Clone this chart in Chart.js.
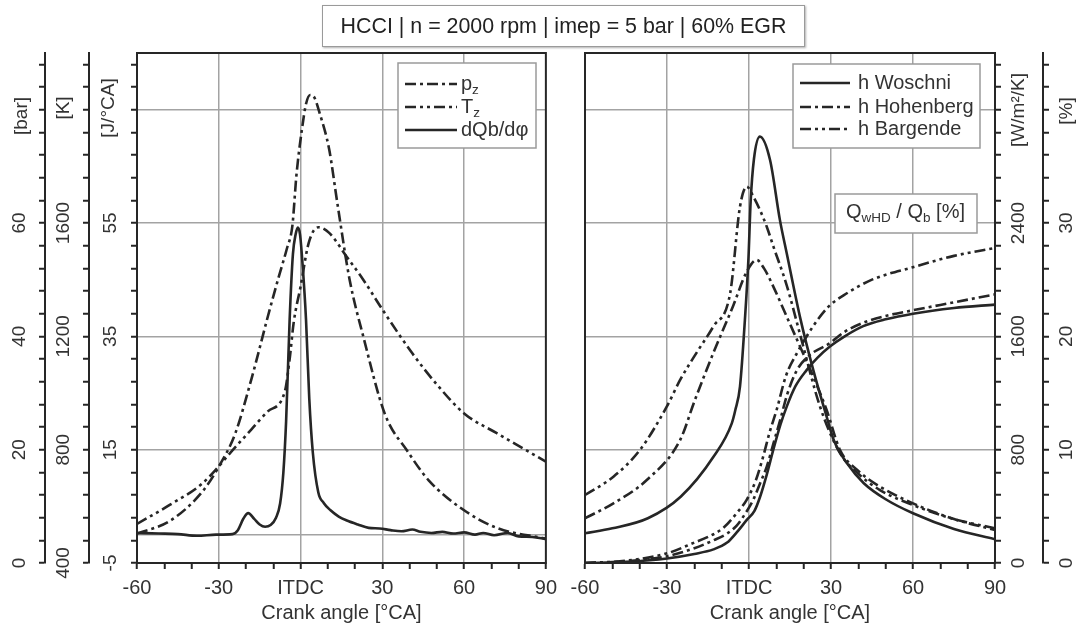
<!DOCTYPE html>
<html>
<head>
<meta charset="utf-8">
<script src="https://cdn.jsdelivr.net/npm/chart.js@4.4.1/dist/chart.umd.min.js"></script>
<style>
  body { margin: 0; background: #fff; width: 1076px; height: 626px; position: relative; overflow: hidden; font-family: "Liberation Sans", Arial, sans-serif; }
  #leftChart { position: absolute; left: 0; top: 0; }
  #rightChart { position: absolute; left: 560px; top: 0; }
  #title { position: absolute; left: 322px; top: 5px; width: 483px; height: 42px; box-sizing: border-box;
    border: 1px solid #9a9a9a; box-shadow: 1px 1px 2px #b0b0b0; background: #fff;
    text-align: center; line-height: 40px; font-size: 21.4px; color: #222; }
</style>
</head>
<body>
<canvas id="rightChart" width="516" height="626"></canvas>
<canvas id="leftChart" width="564" height="626"></canvas>
<div id="title">HCCI | n = 2000 rpm | imep = 5 bar | 60% EGR</div>
<script>
// left panel: cylinder pressure [bar], gas temperature [K], heat release rate [J/°CA]
const caP = [-60, -48, -36, -30, -24, -18, -12, -8, -5, -3, -1.5, 0.5, 2, 3.5, 5, 7, 10.5, 13.5, 18, 23, 31, 39, 47, 60, 72, 90];
const pressure = [5.2, 7.4, 12.6, 17.0, 22.8, 32.5, 43.5, 50.5, 55.5, 59.5, 68.5, 76.5, 81.0, 82.6, 82.2, 79.4, 73.0, 63.5, 50.0, 40.0, 26.2, 19.9, 14.6, 9.3, 6.2, 4.3];

const caT = [-60, -48, -36, -24, -18, -12, -5.8, -4, -2.5, 0, 3, 6.5, 10.5, 17, 23, 30, 41, 50, 60, 72, 90];
const temperature = [538, 605, 681, 808, 872, 935, 1004, 1120, 1250, 1375, 1530, 1585, 1565, 1480, 1400, 1295, 1140, 1030, 928, 858, 758];

const caHR = [-60, -52, -45, -38, -31, -25, -23, -21, -19.2, -17, -15, -13, -11, -9, -7.5, -6.3, -5.3, -4, -2.8, -1.8,
  -1, -0.2, 0.8, 2, 3.2, 4.5, 6.5, 8.5, 11, 14, 17, 21, 25, 29, 33, 37, 41, 44, 48, 52, 56, 60, 64, 67, 71, 76, 80, 85, 90];
const heatRelease = [0.3, 0.2, 0.1, -0.2, 0.0, 0.1, 0.8, 2.8, 3.8, 2.8, 1.8, 1.4, 1.7, 3.0, 5.5, 11, 20, 38, 49.5, 53,
  54.2, 53, 47.3, 38, 24, 14.5, 7.5, 5.6, 4.3, 3.2, 2.5, 1.8, 1.2, 1.1, 0.8, 0.6, 0.9, 0.5, 0.3, 0.5, 0.2, 0.4, 0.0, 0.3, -0.1, 0.3, -0.3, -0.4, -0.8];

// right panel: heat transfer coefficient [W/m²/K]
const caHW = [-60, -50, -37, -25, -13, -6.3, -5, -3.3, -1.5, -0.2, 0.6, 1.8, 4, 7.7, 11.3, 13.8, 18.9, 23.5, 28.4, 31, 36, 42, 50, 60, 75, 90];
const hWoschni = [210, 245, 316, 468, 750, 986, 1080, 1245, 1716, 2150, 2550, 2850, 3010, 2845, 2422, 2187, 1716, 1363, 1033, 868, 700, 563, 450, 351, 240, 167];

const caHH = [-60, -49.6, -37.4, -25.2, -19.8, -13.1, -5.7, -1, 2.8, 5.5, 8.9, 13.8, 18.7, 23.5, 28.4, 33.3, 40, 47.9, 60, 75, 90];
const hHohenberg = [316, 421, 586, 868, 1150, 1480, 1820, 2050, 2139, 2080, 1951, 1739, 1527, 1316, 1080, 798, 650, 539, 421, 310, 233];

const caHB = [-60, -49.6, -39.9, -30.1, -25.2, -19, -13.1, -6.9, -3.3, -0.8, 1.6, 4, 6.5, 9, 13.8, 18.9, 26, 33.3, 40, 47.9, 60, 75, 90];
const hBargende = [480, 609, 798, 1103, 1292, 1490, 1668, 1904, 2515, 2657, 2586, 2492, 2374, 2230, 1960, 1598, 1103, 775, 630, 515, 409, 310, 245];

// right panel: wall heat loss share Q_wHD / Q_b [%]
const caQW = [-60, -45, -30, -20, -13, -8, -4.5, -0.8, 2, 4, 6.5, 8.9, 11.5, 13.8, 17, 21, 25, 29.6, 35, 41.8, 50, 60, 75, 90];
const qWoschni = [0, 0.1, 0.4, 0.8, 1.2, 1.8, 2.7, 3.8, 4.6, 5.8, 7.8, 10.0, 12.2, 13.8, 15.6, 17.0, 18.1, 19.1, 20.0, 20.9, 21.5, 22.0, 22.5, 22.8];

const caQH = [-60, -45, -30, -20, -13, -8, -4.5, -1, 1.6, 4, 6.5, 9, 11.4, 14, 17.5, 22, 29.6, 35, 41.8, 50, 60, 75, 90];
const qHohenberg = [0, 0.15, 0.6, 1.3, 2.0, 2.6, 3.3, 4.5, 5.6, 7.0, 8.5, 10.6, 12.6, 14.9, 17.0, 18.3, 19.4, 20.4, 21.2, 21.8, 22.3, 23.0, 23.7];

const caQB = [-60, -45, -30, -20, -15, -9.4, -4.5, -0.8, 2.5, 5.2, 7.5, 10.1, 13.5, 17.5, 23.5, 29, 35.8, 45, 60, 75, 90];
const qBargende = [0, 0.2, 0.85, 1.8, 2.3, 3.1, 4.4, 5.6, 7.3, 9.4, 11.5, 13.5, 16.5, 18.5, 20.9, 22.6, 23.8, 25.0, 26.1, 27.1, 27.8];

// tick labels
const xTicks = [-60, -30, 0, 30, 60, 90];
const xTickLabels = ['-60', '-30', 'ITDC', '30', '60', '90'];
const barLabels = [0, 20, 40, 60];
const kLabels = [400, 800, 1200, 1600];
const jLabels = [-5, 15, 35, 55];
const wLabels = [0, 800, 1600, 2400];
const pctLabels = [0, 10, 20, 30];

const FONT = '"Liberation Sans", Arial, sans-serif';
const INK = '#262626';
const TEXT = '#333';
const GRID = '#a3a3a3';
const CLEAR = 'rgba(0,0,0,0)';
const DASH_DOT = [11, 4, 3, 4];
const DASH_DOT_DOT = [11, 4, 3, 4, 3, 4];

function line(xs, ys, axis, dash) {
  return {
    data: xs.map((x, i) => ({ x: x, y: ys[i] })),
    yAxisID: axis,
    borderColor: INK,
    borderWidth: 2.6,
    borderDash: dash,
    pointRadius: 0,
    cubicInterpolationMode: 'monotone',
    fill: false
  };
}

function stepTicks(from, to, step) {
  return s => {
    s.ticks = [];
    for (let v = from; v <= to + 1e-9; v += step) s.ticks.push({ value: v });
  };
}

function xAxis() {
  return {
    type: 'linear', position: 'bottom', min: -60, max: 90,
    ticks: {
      stepSize: 10, autoSkip: false, minRotation: 0, maxRotation: 0, padding: 7,
      color: TEXT, font: { family: FONT, size: 20 },
      callback: v => { const i = xTicks.indexOf(v); return i < 0 ? '' : xTickLabels[i]; }
    },
    grid: {
      color: c => (c.tick && c.tick.value % 30 === 0 && c.tick.value > -60 && c.tick.value < 90) ? GRID : CLEAR,
      lineWidth: 1.5, tickLength: 6, tickColor: INK, tickWidth: 2
    },
    border: { color: INK, width: 2 },
    title: { display: true, text: 'Crank angle [°CA]', color: TEXT, font: { family: FONT, size: 20 }, padding: { top: 0, bottom: 1 } },
    afterFit: s => { s.height = 63; }
  };
}

function yAxis(pos, weight, min, max, step, width, gridEvery) {
  return {
    type: 'linear', position: pos, weight: weight, min: min, max: max,
    afterBuildTicks: stepTicks(min, max - step / 2, step),
    ticks: { display: false },
    grid: {
      display: true,
      drawOnChartArea: !!gridEvery,
      color: c => (gridEvery && c.tick && c.tick.value > min && Math.abs((c.tick.value - min) % gridEvery) < 1e-6) ? GRID : CLEAR,
      lineWidth: 1.5, tickLength: 6, tickColor: INK, tickWidth: 2
    },
    border: { color: INK, width: 2 },
    afterFit: s => { s.width = width; }
  };
}

function vText(ctx, text, x, y) {
  ctx.save();
  ctx.translate(x, y);
  ctx.rotate(-Math.PI / 2);
  ctx.textAlign = 'center';
  ctx.textBaseline = 'middle';
  ctx.fillText(text, 0, 0);
  ctx.restore();
}

function richText(ctx, parts, x, y) {
  ctx.fillStyle = TEXT;
  ctx.textAlign = 'left';
  ctx.textBaseline = 'middle';
  parts.forEach(p => {
    const sub = p[1];
    ctx.font = (sub ? 13.5 : 20) + 'px ' + FONT;
    ctx.fillText(p[0], x, sub ? y + 6 : y);
    x += ctx.measureText(p[0]).width;
  });
}

function drawBox(ctx, b) {
  ctx.setLineDash([]);
  ctx.fillStyle = '#fff';
  ctx.fillRect(b.x, b.y, b.w, b.h);
  ctx.strokeStyle = '#9a9a9a';
  ctx.lineWidth = 1.5;
  ctx.strokeRect(b.x, b.y, b.w, b.h);
  b.rows.forEach(r => {
    if (r.dash) {
      ctx.strokeStyle = INK;
      ctx.lineWidth = 2.6;
      ctx.setLineDash(r.dash);
      ctx.beginPath();
      ctx.moveTo(b.lx1, r.y);
      ctx.lineTo(b.lx2, r.y);
      ctx.stroke();
      ctx.setLineDash([]);
    }
    richText(ctx, r.parts, b.tx, r.y);
  });
}

// frame, rotated axis labels, legend boxes
function makeDecor(cfg) {
  return {
    id: 'decor',
    beforeDatasetsDraw(chart) {
      if (!cfg.zeroLine) return;
      const ctx = chart.ctx, a = chart.chartArea;
      const y = chart.scales[cfg.zeroLine.axis].getPixelForValue(cfg.zeroLine.value);
      ctx.save();
      ctx.strokeStyle = GRID;
      ctx.lineWidth = 1.5;
      ctx.beginPath();
      ctx.moveTo(a.left, y);
      ctx.lineTo(a.right, y);
      ctx.stroke();
      ctx.restore();
    },
    afterDraw(chart) {
      const ctx = chart.ctx, a = chart.chartArea;
      ctx.save();
      ctx.strokeStyle = INK;
      ctx.lineWidth = 2;
      ctx.strokeRect(a.left, a.top, a.right - a.left, a.bottom - a.top);
      ctx.fillStyle = TEXT;
      ctx.font = '19px ' + FONT;
      cfg.axes.forEach(ax => {
        const s = chart.scales[ax.id];
        ax.labels.forEach(v => vText(ctx, String(v), ax.x, s.getPixelForValue(v)));
        vText(ctx, ax.title, ax.x + (ax.titleDx || 0), ax.titleY);
      });
      cfg.boxes.forEach(b => drawBox(ctx, b));
      ctx.restore();
    }
  };
}

const leftDecor = {
  zeroLine: { axis: 'J', value: 0 },
  axes: [
    { id: 'bar', labels: barLabels, x: 20, title: '[bar]', titleDx: 2, titleY: 116 },
    { id: 'K', labels: kLabels, x: 64, title: '[K]', titleY: 108 },
    { id: 'J', labels: jLabels, x: 111, title: '[J/°CA]', titleDx: -2, titleY: 108 }
  ],
  boxes: [
    { x: 398, y: 63, w: 138, h: 85, lx1: 405, lx2: 457, tx: 461, rows: [
      { y: 84, dash: DASH_DOT, parts: [['p'], ['z', 1]] },
      { y: 107, dash: DASH_DOT_DOT, parts: [['T'], ['z', 1]] },
      { y: 130, dash: [], parts: [['dQb/dφ']] }
    ] }
  ]
};

const rightDecor = {
  axes: [
    { id: 'W', labels: wLabels, x: 459, title: '[W/m²/K]', titleY: 110 },
    { id: 'pct', labels: pctLabels, x: 507, title: '[%]', titleY: 111 }
  ],
  boxes: [
    { x: 233, y: 64, w: 187, h: 84, lx1: 240, lx2: 290, tx: 298, rows: [
      { y: 83, dash: [], parts: [['h Woschni']] },
      { y: 107, dash: DASH_DOT, parts: [['h Hohenberg']] },
      { y: 129, dash: DASH_DOT_DOT, parts: [['h Bargende']] }
    ] },
    { x: 275, y: 194, w: 142, h: 39, tx: 286, rows: [
      { y: 212, parts: [['Q'], ['wHD', 1], [' / Q'], ['b', 1], [' [%]']] }
    ] }
  ]
};

new Chart('leftChart', {
  type: 'line',
  data: {
    datasets: [
      line(caP, pressure, 'bar', DASH_DOT),
      line(caT, temperature, 'K', DASH_DOT_DOT),
      line(caHR, heatRelease, 'J', [])
    ]
  },
  options: {
    responsive: false,
    animation: false,
    devicePixelRatio: 1,
    layout: { padding: { top: 53, left: 0, right: 15, bottom: 0 } },
    plugins: { legend: { display: false }, tooltip: { enabled: false } },
    scales: {
      x: xAxis(),
      bar: yAxis('left', 2, 0, 90, 4, 45, 20),
      K: yAxis('left', 1, 400, 2200, 80, 44, 0),
      J: yAxis('left', 0, -5, 85, 4, 48, 0)
    }
  },
  plugins: [makeDecor(leftDecor)]
});

new Chart('rightChart', {
  type: 'line',
  data: {
    datasets: [
      line(caHW, hWoschni, 'W', []),
      line(caHH, hHohenberg, 'W', DASH_DOT),
      line(caHB, hBargende, 'W', DASH_DOT_DOT),
      line(caQW, qWoschni, 'pct', []),
      line(caQH, qHohenberg, 'pct', DASH_DOT),
      line(caQB, qBargende, 'pct', DASH_DOT_DOT)
    ]
  },
  options: {
    responsive: false,
    animation: false,
    devicePixelRatio: 1,
    layout: { padding: { top: 53, left: 25, right: 0, bottom: 0 } },
    plugins: { legend: { display: false }, tooltip: { enabled: false } },
    scales: {
      x: xAxis(),
      W: yAxis('right', 0, 0, 3600, 160, 48, 800),
      pct: yAxis('right', 1, 0, 45, 2, 33, 0)
    }
  },
  plugins: [makeDecor(rightDecor)]
});
</script>
</body>
</html>
